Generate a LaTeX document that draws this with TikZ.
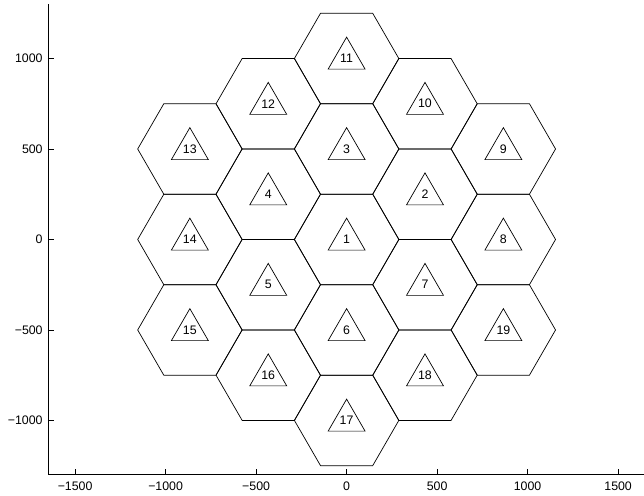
\documentclass[tikz,border=0pt]{standalone}
\usepackage{fontspec}
\setmainfont{Liberation Sans}
\usetikzlibrary{shapes.geometric}

\definecolor{ink}{RGB}{0,0,0}

\tikzset{
    line cap=butt,
    line join=miter,
    cellhex/.style={
        regular polygon,
        regular polygon sides=6,
        draw=ink,
        line width=0.5pt,
        minimum size=2.6125cm,
        inner sep=0pt
    },
    site/.style={
        regular polygon,
        regular polygon sides=3,
        draw=ink,
        line width=0.5pt,
        minimum size=1.068cm,
        inner sep=0pt,
        text=ink,
        font=\fontsize{8.8}{10}\selectfont
    },
    axisline/.style={
        draw=ink,
        line width=0.6pt
    },
    tickmark/.style={
        draw=ink,
        line width=0.5pt
    },
    ticklabel/.style={
        inner sep=0pt,
        text=ink,
        font=\fontsize{8.8}{10}\selectfont
    }
}

\begin{document}
\begin{tikzpicture}[x=0.004525cm, y=0.004525cm]

\useasboundingbox (-1915,-1417) rectangle (1643,1323);

% Axes
\coordinate (top) at (-1650,1300);
\coordinate (corner) at (-1650,-1300);
\coordinate (right) at (1650,-1300);
\draw[axisline] (top) -- (corner) -- (right);

% x ticks
\draw[tickmark] (-1500,-1300) -- ++(0,31);
\draw[tickmark] (-1000,-1300) -- ++(0,31);
\draw[tickmark] (-500,-1300) -- ++(0,31);
\draw[tickmark] (0,-1300) -- ++(0,31);
\draw[tickmark] (500,-1300) -- ++(0,31);
\draw[tickmark] (1000,-1300) -- ++(0,31);
\draw[tickmark] (1500,-1300) -- ++(0,31);
\node[ticklabel, anchor=north] (xl1) at (-1500,-1337) {−1500};
\node[ticklabel, anchor=north] (xl2) at (-1000,-1337) {−1000};
\node[ticklabel, anchor=north] (xl3) at (-500,-1337) {−500};
\node[ticklabel, anchor=north] (xl4) at (0,-1337) {0};
\node[ticklabel, anchor=north] (xl5) at (500,-1337) {500};
\node[ticklabel, anchor=north] (xl6) at (1000,-1337) {1000};
\node[ticklabel, anchor=north] (xl7) at (1500,-1337) {1500};

% y ticks
\draw[tickmark] (-1650,-1000) -- ++(31,0);
\draw[tickmark] (-1650,-500) -- ++(31,0);
\draw[tickmark] (-1650,0) -- ++(31,0);
\draw[tickmark] (-1650,500) -- ++(31,0);
\draw[tickmark] (-1650,1000) -- ++(31,0);
\node[ticklabel, anchor=east] (yl1) at (-1678,-1000) {−1000};
\node[ticklabel, anchor=east] (yl2) at (-1678,-500) {−500};
\node[ticklabel, anchor=east] (yl3) at (-1678,0) {0};
\node[ticklabel, anchor=east] (yl4) at (-1678,500) {500};
\node[ticklabel, anchor=east] (yl5) at (-1678,1000) {1000};

% Hexagonal cells
\node[cellhex] (c1) at (0,0) {};
\node[cellhex] (c2) at (433.01,250) {};
\node[cellhex] (c3) at (0,500) {};
\node[cellhex] (c4) at (-433.01,250) {};
\node[cellhex] (c5) at (-433.01,-250) {};
\node[cellhex] (c6) at (0,-500) {};
\node[cellhex] (c7) at (433.01,-250) {};
\node[cellhex] (c8) at (866.03,0) {};
\node[cellhex] (c9) at (866.03,500) {};
\node[cellhex] (c10) at (433.01,750) {};
\node[cellhex] (c11) at (0,1000) {};
\node[cellhex] (c12) at (-433.01,750) {};
\node[cellhex] (c13) at (-866.03,500) {};
\node[cellhex] (c14) at (-866.03,0) {};
\node[cellhex] (c15) at (-866.03,-500) {};
\node[cellhex] (c16) at (-433.01,-750) {};
\node[cellhex] (c17) at (0,-1000) {};
\node[cellhex] (c18) at (433.01,-750) {};
\node[cellhex] (c19) at (866.03,-500) {};

% Base stations
\node[site] (s1) at (c1.center) {1};
\node[site] (s2) at (c2.center) {2};
\node[site] (s3) at (c3.center) {3};
\node[site] (s4) at (c4.center) {4};
\node[site] (s5) at (c5.center) {5};
\node[site] (s6) at (c6.center) {6};
\node[site] (s7) at (c7.center) {7};
\node[site] (s8) at (c8.center) {8};
\node[site] (s9) at (c9.center) {9};
\node[site] (s10) at (c10.center) {10};
\node[site] (s11) at (c11.center) {11};
\node[site] (s12) at (c12.center) {12};
\node[site] (s13) at (c13.center) {13};
\node[site] (s14) at (c14.center) {14};
\node[site] (s15) at (c15.center) {15};
\node[site] (s16) at (c16.center) {16};
\node[site] (s17) at (c17.center) {17};
\node[site] (s18) at (c18.center) {18};
\node[site] (s19) at (c19.center) {19};

\end{tikzpicture}
\end{document}
